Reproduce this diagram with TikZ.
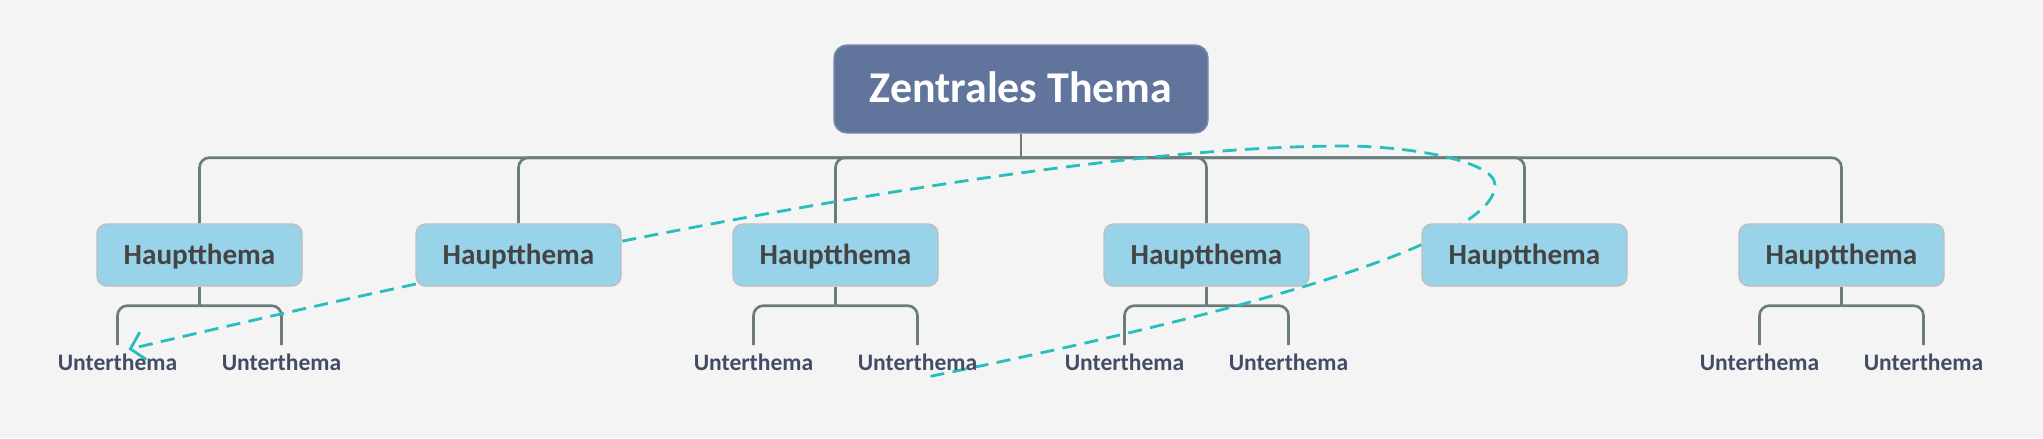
\documentclass[tikz,border=0pt]{standalone}
\usepackage{fontspec}
\setmainfont{Carlito}
\usepackage{tikz}
\usetikzlibrary{arrows.meta,positioning,backgrounds}
\definecolor{mapBg}{RGB}{244,244,244}
\definecolor{rootBlue}{RGB}{97,117,156}
\definecolor{topicBlue}{RGB}{152,211,233}
\definecolor{topicEdge}{RGB}{190,190,190}
\definecolor{topicText}{RGB}{68,68,68}
\definecolor{leafSlate}{RGB}{66,76,102}
\definecolor{branchGray}{RGB}{108,124,124}
\definecolor{relTeal}{RGB}{40,190,190}

\begin{document}
\begin{tikzpicture}[
      rootbx/.style={fill=rootBlue, draw=rootBlue!85!white, rounded corners=3.7pt,
                     minimum width=3.74cm, minimum height=0.88cm, inner sep=0pt,
                     text height=7.9pt, text depth=0pt, text=white,
                     font=\fontsize{12.5}{14}\selectfont\bfseries},
      bx/.style={fill=topicBlue, draw=topicEdge, line width=0.4pt, rounded corners=2.8pt,
                 minimum width=2.05cm, minimum height=0.62cm, inner sep=0pt,
                 text height=5.3pt, text depth=0pt, text=topicText,
                 font=\fontsize{8.3}{10}\selectfont\bfseries},
      leaf/.style={inner xsep=0pt, inner ysep=0.1cm, text height=4.3pt, text depth=0pt,
                   text=leafSlate, font=\fontsize{6.7}{8}\selectfont\bfseries},
      branch/.style={draw=branchGray, line width=0.75pt, rounded corners=2.8pt},
      rel/.style={draw=relTeal, line width=0.8pt, dash pattern=on 4pt off 2.4pt,
                  -{Straight Barb[length=1.3mm,width=2.8mm]}}
    ]
      \useasboundingbox (0,0) rectangle (20.43,-4.38);
      \begin{scope}[on background layer]
        \fill[mapBg] (0,0) rectangle (20.43,-4.38);
      \end{scope}
      % Root
      \node[rootbx] (root) at (10.21,-0.89) {Zentrales Thema};
      % Main topics
      \node[bx] (h1) at (1.995,-2.55) {Hauptthema};
      \node[bx] (h2) at (5.185,-2.55) {Hauptthema};
      \node[bx] (h3) at (8.355,-2.55) {Hauptthema};
      \node[bx] (h4) at (12.065,-2.55) {Hauptthema};
      \node[bx] (h5) at (15.245,-2.55) {Hauptthema};
      \node[bx] (h6) at (18.415,-2.55) {Hauptthema};
      % Subtopics
      \node[leaf] (u11) at (1.175,-3.633) {Unterthema};
      \node[leaf] (u12) at (2.815,-3.633) {Unterthema};
      \node[leaf] (u31) at (7.535,-3.633) {Unterthema};
      \node[leaf] (u32) at (9.175,-3.633) {Unterthema};
      \node[leaf] (u41) at (11.245,-3.633) {Unterthema};
      \node[leaf] (u42) at (12.885,-3.633) {Unterthema};
      \node[leaf] (u61) at (17.595,-3.633) {Unterthema};
      \node[leaf] (u62) at (19.235,-3.633) {Unterthema};
      \coordinate (loopR) at (14.95,-1.85);
      \coordinate (loopT) at (13.45,-1.46);
      \begin{scope}[on background layer]
        % Branches
        \draw[branch] (root.south) -- ++(0,-0.24);
        \draw[branch] (root.south) ++(0,-0.24) -| (h1.north);
        \draw[branch] (root.south) ++(0,-0.24) -| (h2.north);
        \draw[branch] (root.south) ++(0,-0.24) -| (h3.north);
        \draw[branch] (root.south) ++(0,-0.24) -| (h4.north);
        \draw[branch] (root.south) ++(0,-0.24) -| (h5.north);
        \draw[branch] (root.south) ++(0,-0.24) -| (h6.north);
        \draw[branch] (h1.south) -- ++(0,-0.19);
        \draw[branch] (h1.south) ++(0,-0.19) -| (u11.north);
        \draw[branch] (h1.south) ++(0,-0.19) -| (u12.north);
        \draw[branch] (h3.south) -- ++(0,-0.19);
        \draw[branch] (h3.south) ++(0,-0.19) -| (u31.north);
        \draw[branch] (h3.south) ++(0,-0.19) -| (u32.north);
        \draw[branch] (h4.south) -- ++(0,-0.19);
        \draw[branch] (h4.south) ++(0,-0.19) -| (u41.north);
        \draw[branch] (h4.south) ++(0,-0.19) -| (u42.north);
        \draw[branch] (h6.south) -- ++(0,-0.19);
        \draw[branch] (h6.south) ++(0,-0.19) -| (u61.north);
        \draw[branch] (h6.south) ++(0,-0.19) -| (u62.north);
        % Relation
        \draw[rel] ([shift={(0.13,-0.13)}]u32.center)
          .. controls +(2.94,0.6) and +(0,-0.6) .. (loopR)
          .. controls +(0,0.25) and +(0.6,0) .. (loopT)
          .. controls +(-3.0,0) and +(3.89,0.92) .. ([shift={(0.11,0.14)}]u11.center);
      \end{scope}
    \end{tikzpicture}
\end{document}
